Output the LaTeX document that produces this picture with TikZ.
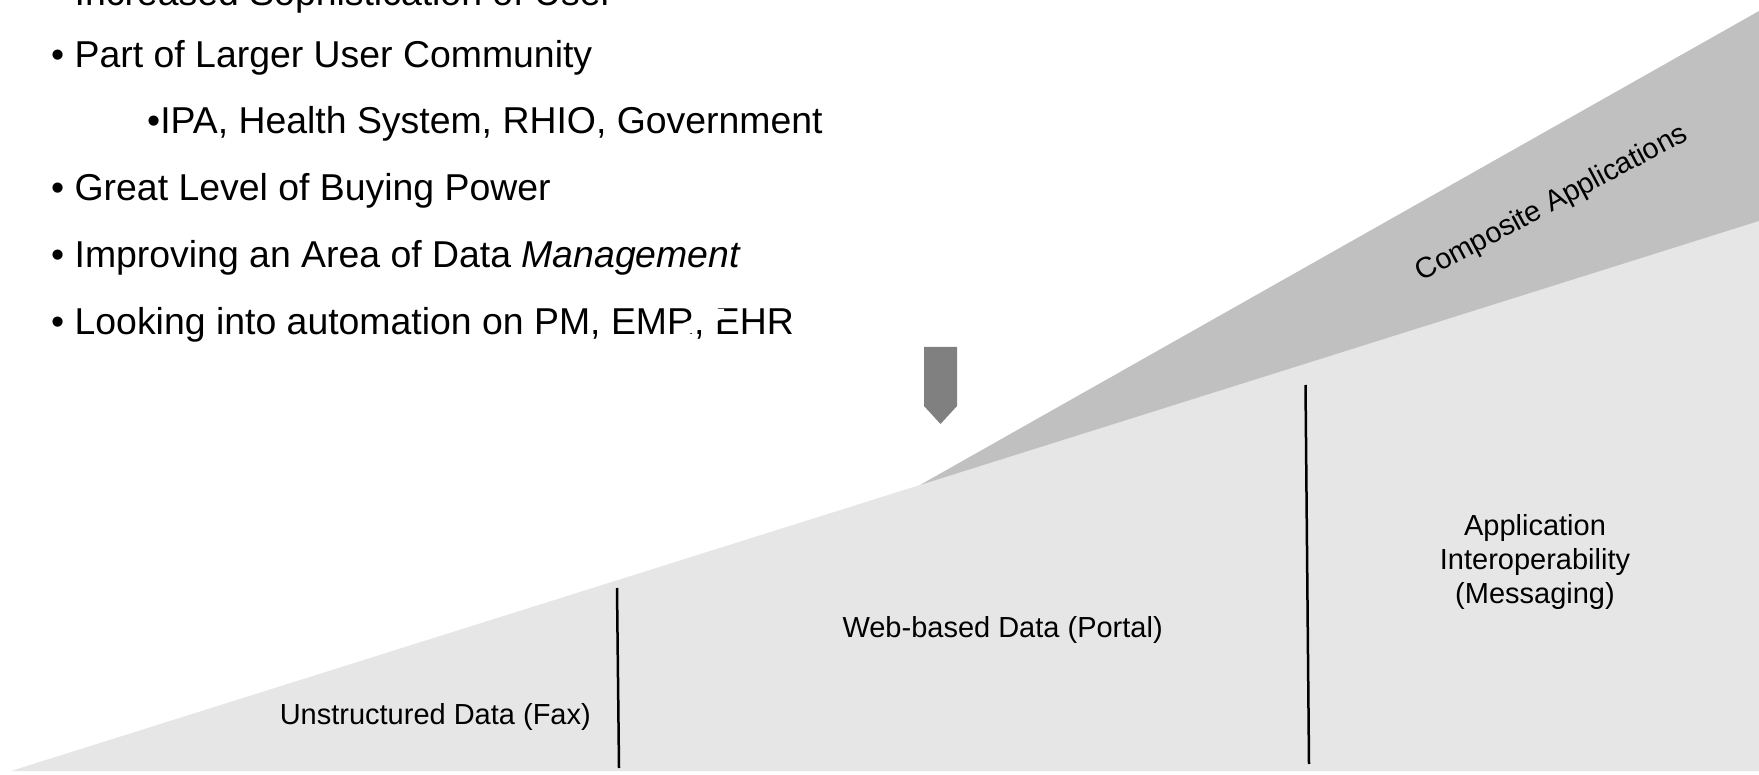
\documentclass[tikz,border=0pt]{standalone}
\usepackage{fontspec}
\setmainfont{Liberation Sans}
\definecolor{lightgr}{HTML}{E6E6E6}
\definecolor{darkgr}{HTML}{C0C0C0}
\definecolor{arrowgr}{HTML}{808080}
\tikzset{
  bullettext/.style={anchor=base west, inner sep=0pt, font=\fontsize{37.4}{44}\selectfont},
  label/.style={inner sep=0pt, font=\fontsize{29}{34}\selectfont},
  divider/.style={line width=2.5pt, black},
}
\begin{document}
\begin{tikzpicture}[x=1pt,y=-1pt]
\useasboundingbox (0,0) rectangle (1759,775);
\fill[white] (0,0) rectangle (1759,775);
% light gray ramp
\fill[lightgr] (11,771) -- (1759,221) -- (1759,771) -- cycle;
% dark gray wedge
\fill[darkgr] (920,485) -- (1759,11) -- (1759,221) -- cycle;
% down arrow
\fill[arrowgr] (924,347) -- (957,347) -- (957,406) -- (940.5,424) -- (924,406) -- cycle;
% dividers
\draw[divider] (617,588) -- (619,768);
\draw[divider] (1305.5,385) -- (1309,764);
% bullet text
\node[bullettext] (l0) at (51,6) {• Increased Sophistication of User};
\node[bullettext] (l1) at (51,68) {• Part of Larger User Community};
\node[bullettext] (l2) at (147,134) {•IPA, Health System, RHIO, Government};
\node[bullettext] (l3) at (51,201) {• Great Level of Buying Power};
\node[bullettext] (l4) at (51,268) {• Improving an Area of Data \textit{Management}};
\node[bullettext] (l5) at (51,335) {• Looking into automation on PM, EMR, EHR};
% white artifact over EMR, EHR
\fill[white] (681,334) -- (689,334) -- (724,318) -- (724,309) -- (716,309) -- (681,324) -- cycle;
% labels
\node[label, anchor=base east] (fax) at (591,724) {Unstructured Data (Fax)};
\node[label, anchor=base] (web) at (1002.6,637) {Web-based Data (Portal)};
\node[label, align=center] (msg) at (1535,562) {Application\\Interoperability\\(Messaging)};
\node[label, rotate=28] (comp) at (1552,204) {Composite Applications};
\end{tikzpicture}
\end{document}
